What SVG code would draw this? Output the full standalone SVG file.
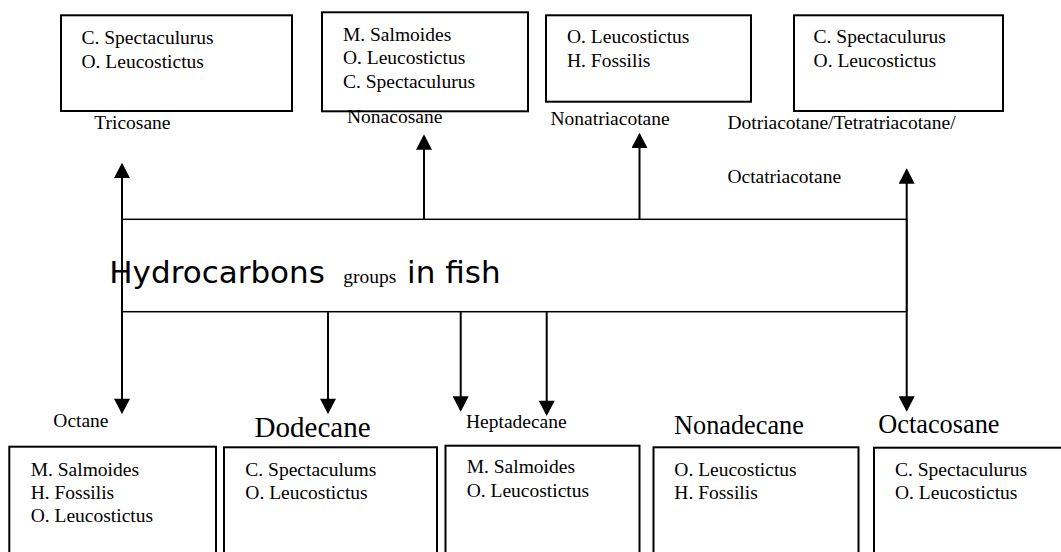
<svg xmlns="http://www.w3.org/2000/svg" width="1061" height="552" viewBox="0 0 1061 552">
<style>
  .box { fill: #fff; stroke: #000; stroke-width: 2; }
  .t { font-family: "Liberation Serif", "Times New Roman", serif; font-size: 19.5px; fill: #000; }
  .big { font-size: 26.3px; }
  .title { font-family: "DejaVu Sans", Verdana, sans-serif; font-size: 31px; fill: #000; }
  .conn { stroke: #000; stroke-width: 2; fill: none; }
  .main { fill: none; stroke: #000; stroke-width: 1.5; }
</style>
<defs>
  <marker id="ah" markerUnits="userSpaceOnUse" markerWidth="16" markerHeight="16" viewBox="0 0 15 15.6" refX="13" refY="7.8" orient="auto-start-reverse">
    <path d="M0,0 L15,7.8 L0,15.6 Z" fill="#000"/>
  </marker>
</defs>
<rect width="1061" height="552" fill="#fff"/>

<g id="main">
  <rect class="main" x="122" y="219.3" width="784.7" height="92.4"/>
  <text x="109.3" y="282.7" class="title">Hydrocarbons<tspan x="343.2" class="t">groups</tspan><tspan x="407.1">in fish</tspan></text>
</g>

<g id="connectors">
  <path class="conn" d="M122,164.7 V412" marker-start="url(#ah)" marker-end="url(#ah)"/>
  <path class="conn" d="M424,219.3 V136.3" marker-end="url(#ah)"/>
  <path class="conn" d="M639.5,219.3 V134.7" marker-end="url(#ah)"/>
  <path class="conn" d="M906.7,170.3 V409.7" marker-start="url(#ah)" marker-end="url(#ah)"/>
  <path class="conn" d="M328,311.7 V412" marker-end="url(#ah)"/>
  <path class="conn" d="M460.7,311.7 V409.7" marker-end="url(#ah)"/>
  <path class="conn" d="M546.7,311.7 V414" marker-end="url(#ah)"/>
</g>

<g id="tricosane">
  <rect class="box" x="61" y="15.3" width="231" height="95.7"/>
  <text class="t" x="81.5" y="44">C. Spectaculurus</text>
  <text class="t" x="81.5" y="67.7">O. Leucostictus</text>
  <text class="t" x="94.3" y="129.3">Tricosane</text>
</g>

<g id="nonacosane">
  <rect class="box" x="322" y="12.3" width="206" height="99"/>
  <text class="t" x="342.9" y="40.7">M. Salmoides</text>
  <text class="t" x="342.9" y="64">O. Leucostictus</text>
  <text class="t" x="342.9" y="87.7">C. Spectaculurus</text>
  <text class="t" x="347" y="123.3">Nonacosane</text>
</g>

<g id="nonatriacotane">
  <rect class="box" x="546" y="15.3" width="205" height="86.4"/>
  <text class="t" x="567" y="43.3">O. Leucostictus</text>
  <text class="t" x="567" y="66.7">H. Fossilis</text>
  <text class="t" x="550.5" y="125">Nonatriacotane</text>
</g>

<g id="dotriacotane">
  <rect class="box" x="794" y="15.3" width="209" height="95.7"/>
  <text class="t" x="813.6" y="43.3">C. Spectaculurus</text>
  <text class="t" x="813.6" y="66.7">O. Leucostictus</text>
  <text class="t" x="727.4" y="129">Dotriacotane/Tetratriacotane/</text>
  <text class="t" x="727.4" y="182.7">Octatriacotane</text>
</g>

<g id="octane">
  <rect class="box" x="9.3" y="446.7" width="206.7" height="120"/>
  <text class="t" x="53.3" y="427.3">Octane</text>
  <text class="t" x="30.7" y="475.7">M. Salmoides</text>
  <text class="t" x="30.7" y="498.5">H. Fossilis</text>
  <text class="t" x="30.7" y="521.7">O. Leucostictus</text>
</g>

<g id="dodecane">
  <rect class="box" x="224" y="447.3" width="213" height="120"/>
  <text class="t" x="254.6" y="436.7" style="font-size:29px">Dodecane</text>
  <text class="t" x="245.3" y="475.7">C. Spectaculums</text>
  <text class="t" x="245.3" y="499.3">O. Leucostictus</text>
</g>

<g id="heptadecane">
  <rect class="box" x="445.5" y="445.7" width="194" height="120"/>
  <text class="t" x="466" y="428.3">Heptadecane</text>
  <text class="t" x="466.7" y="473.3">M. Salmoides</text>
  <text class="t" x="466.7" y="497.3">O. Leucostictus</text>
</g>

<g id="nonadecane">
  <rect class="box" x="653.5" y="447.3" width="205" height="120"/>
  <text class="t big" x="674" y="434">Nonadecane</text>
  <text class="t" x="674.3" y="475.7">O. Leucostictus</text>
  <text class="t" x="674.3" y="499.3">H. Fossilis</text>
</g>

<g id="octacosane">
  <rect class="box" x="874" y="447.7" width="200" height="120"/>
  <text class="t big" x="878.3" y="433.3">Octacosane</text>
  <text class="t" x="895" y="475.7">C. Spectaculurus</text>
  <text class="t" x="895" y="499">O. Leucostictus</text>
</g>
</svg>
